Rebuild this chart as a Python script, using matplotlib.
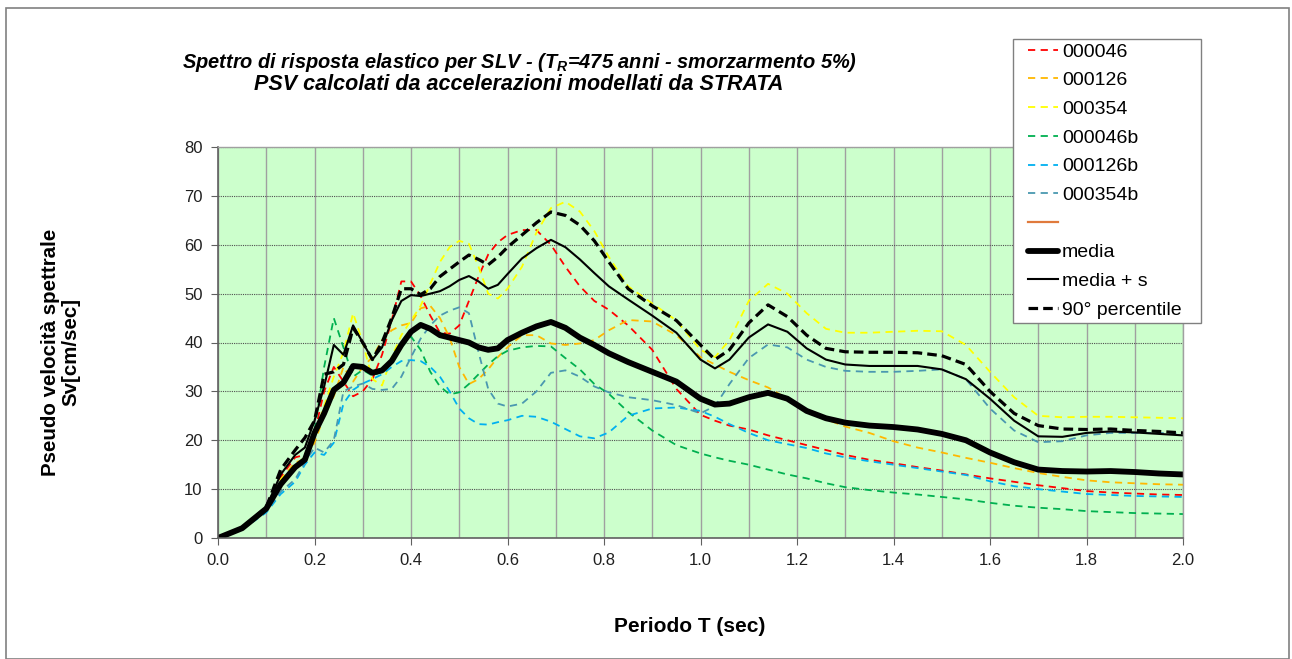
import matplotlib
matplotlib.use("Agg")
import matplotlib.pyplot as plt
from matplotlib.patches import Rectangle

plt.rcParams['font.family'] = ['Liberation Sans', 'DejaVu Sans']
plt.rcParams['mathtext.fontset'] = 'custom'
plt.rcParams['mathtext.it'] = 'Liberation Sans:bold:italic'
plt.rcParams['mathtext.rm'] = 'Liberation Sans:bold:italic'
plt.rcParams['mathtext.bf'] = 'Liberation Sans:bold:italic'

T = [0, 0.05, 0.1, 0.13, 0.16, 0.18, 0.2, 0.22, 0.24, 0.26, 0.28, 0.3, 0.32, 0.34, 0.36, 0.38,
     0.40, 0.42, 0.44, 0.46, 0.48, 0.50, 0.52, 0.54, 0.56, 0.58, 0.60, 0.63, 0.66, 0.69, 0.72,
     0.75, 0.78, 0.81, 0.85, 0.90, 0.95, 1.00, 1.03, 1.06, 1.10, 1.14, 1.18, 1.22, 1.26, 1.30,
     1.35, 1.40, 1.45, 1.50, 1.55, 1.60, 1.65, 1.70, 1.75, 1.80, 1.85, 1.90, 1.95, 2.00]

s000046 = [0, 2.0, 6.2, 12.5, 16.5, 17, 21.5, 30, 35, 32, 29, 30, 32.5, 37.5, 44.5, 52.5,
           52.5, 49.5, 45.5, 42.0, 41.8, 43.5, 48.5, 53.5, 58.0, 60.5, 62.0, 63.0, 63.0, 60.0, 55.5,
           51.5, 48.5, 46.7, 43.5, 38.5, 30.5, 25.2, 24.0, 23.0, 22.2, 21.0, 20.0, 19.0, 18.0, 17.0,
           16.0, 15.3, 14.5, 13.8, 13.0, 12.2, 11.5, 10.8, 10.2, 9.6, 9.3, 9.1, 8.9, 8.8]

s000126 = [0, 2.0, 6.0, 12, 15.5, 16, 19.5, 25, 29, 35, 32, 35, 37, 40.5, 42.5, 43.5,
           44.0, 47.0, 47.5, 45.0, 41.0, 35.0, 31.5, 32.5, 34.5, 37.0, 39.0, 41.5, 41.5, 39.8, 39.5,
           39.8, 40.5, 42.5, 44.6, 44.3, 41.5, 37.0, 35.5, 34.0, 32.3, 30.8, 28.5, 26.0, 24.3, 22.8,
           21.5, 19.8, 18.5, 17.5, 16.4, 15.4, 14.3, 13.3, 12.5, 11.8, 11.4, 11.2, 11.0, 10.9]

s000354 = [0, 2.0, 6.0, 12, 15, 16.5, 21, 27, 33, 38, 46, 40, 32.5, 31.2, 37, 41.5,
           44.5, 47.5, 52, 56.5, 59.5, 60.8, 60.2, 55.5, 50.0, 49.0, 51.0, 55.5, 62.5, 67.5, 68.8,
           66.8, 62.8, 57.5, 51.5, 48.0, 44.5, 38.5, 37.0, 40.5, 48.5, 52.0, 50.0, 46.0, 42.8, 42.0,
           42.0, 42.2, 42.4, 42.3, 39.5, 34.0, 28.8, 25.0, 24.7, 24.8, 24.8, 24.7, 24.6, 24.5]

s000046b = [0, 2.0, 5.8, 11, 14.5, 16, 22, 35, 45, 39, 33, 34.4, 33.2, 34, 36.5, 39.0,
            41.2, 38.5, 34.0, 31.0, 29.4, 29.8, 31.5, 33.5, 35.5, 37.2, 38.3, 39.0, 39.3, 39.2, 36.8,
            34.5, 31.5, 29.5, 25.8, 22.0, 19.0, 17.3, 16.5, 15.8, 15.0, 14.0, 13.0, 12.2, 11.2, 10.4,
            9.8, 9.3, 8.9, 8.4, 7.9, 7.2, 6.6, 6.2, 5.9, 5.5, 5.3, 5.1, 5.0, 4.9]

s000126b = [0, 1.8, 5.2, 9, 11.5, 15, 17.5, 17, 19.5, 27.5, 30.3, 31.6, 32.5, 33.5, 35.0, 36.2,
            36.4, 36.2, 35.0, 33.0, 30.0, 26.5, 24.5, 23.3, 23.2, 23.7, 24.1, 25.0, 24.8, 23.8, 22.3,
            20.8, 20.4, 21.6, 25.0, 26.5, 26.7, 26.0, 24.8, 23.3, 21.5, 20.0, 19.2, 18.4, 17.3, 16.5,
            15.7, 15.0, 14.3, 13.6, 12.9, 11.6, 10.6, 10.0, 9.5, 9.0, 8.8, 8.6, 8.5, 8.4]

s000354b = [0, 1.8, 5.5, 9.5, 12, 15.5, 18.5, 17.5, 20, 30, 31.0, 31.6, 30.5, 30.3, 30.5, 33,
            37, 40.8, 43.5, 45.5, 46.5, 47.2, 46.0, 38.0, 30.5, 27.5, 26.9, 27.5, 30.0, 33.8, 34.3,
            33.0, 31.0, 29.8, 28.8, 28.2, 27.2, 25.5, 27.0, 31.5, 36.8, 39.6, 39.0, 36.5, 35.0, 34.2,
            34.0, 34.0, 34.2, 34.5, 32.5, 26.5, 22.0, 19.6, 19.8, 21.0, 21.5, 21.5, 21.5, 21.4]

media = [0, 2.0, 6.0, 11.0, 14.5, 16.0, 21.5, 25.5, 30.3, 31.8, 35.2, 35.0, 33.8, 34.3, 36.2, 39.5,
         42.2, 43.6, 42.8, 41.5, 41.0, 40.5, 40.0, 39.0, 38.5, 38.8, 40.5, 42.0, 43.3, 44.2, 43.0,
         41.0, 39.5, 37.8, 36.0, 34.0, 32.0, 28.5, 27.3, 27.5, 28.8, 29.7, 28.5, 26.0, 24.5, 23.6,
         23.0, 22.7, 22.2, 21.3, 20.0, 17.5, 15.5, 14.0, 13.7, 13.6, 13.7, 13.5, 13.2, 13.0]

media_s = [0, 2.0, 6.3, 13, 17, 18.5, 24, 31, 39.5, 37.5, 43.5, 40.0, 36.5, 39.0, 44.5, 48.5,
           49.7, 49.5, 50.0, 50.5, 51.5, 52.8, 53.6, 52.5, 51.0, 51.8, 54.0, 57.2, 59.3, 61.0, 59.5,
           57.0, 54.2, 51.5, 48.8, 45.5, 42.0, 36.5, 34.7, 36.5, 41.0, 43.7, 42.2, 38.8, 36.5, 35.5,
           35.2, 35.2, 35.2, 34.5, 32.5, 28.5, 24.0, 20.8, 20.7, 21.5, 21.8, 21.6, 21.3, 21.0]

perc90 = [0, 2.0, 6.3, 14, 18, 20.5, 24, 33.5, 34.0, 35.5, 43.0, 40.0, 36.5, 40.0, 45, 51,
          51.0, 49.8, 51.0, 53.5, 55.0, 56.5, 57.9, 57.0, 55.9, 57.5, 59.5, 62.0, 64.5, 66.7, 66.0,
          64.0, 60.8, 56.5, 51.0, 47.5, 44.5, 39.5, 36.5, 38.5, 44.0, 47.7, 45.3, 41.5, 38.8, 38.1,
          38.0, 38.0, 37.9, 37.3, 35.5, 30.0, 25.5, 23.0, 22.3, 22.2, 22.3, 22.0, 21.8, 21.5]

x_ticks = [0.0, 0.2, 0.4, 0.6, 0.8, 1.0, 1.2, 1.4, 1.6, 1.8, 2.0]
y_ticks = [0, 10, 20, 30, 40, 50, 60, 70, 80]

W, H = 1292, 659
fig = plt.figure(figsize=(W / 100, H / 100), dpi=100)
fig.patches.append(Rectangle((6 / W, 0), (1289 - 6) / W, 1 - 8 / H,
                             transform=fig.transFigure, fill=False, edgecolor='#808080', lw=1.2))

ax = fig.add_axes([218 / W, 1 - 538 / H, (1183 - 218) / W, (538 - 147) / H])
ax.set_facecolor('#CCFFCC')

dash = (0, (4, 3))
ax.plot(T, s000046, color='#FF0000', lw=1.3, ls=dash, label='000046')
ax.plot(T, s000126, color='#FFB800', lw=1.3, ls=dash, label='000126')
ax.plot(T, s000354, color='#FFFF00', lw=1.3, ls=dash, label='000354')
ax.plot(T, s000046b, color='#00B050', lw=1.3, ls=dash, label='000046b')
ax.plot(T, s000126b, color='#00B0F0', lw=1.3, ls=dash, label='000126b')
ax.plot(T, s000354b, color='#4A98B0', lw=1.3, ls=dash, label='000354b')
ax.plot([], [], color='#E07A3C', lw=1.6, label=' ')
ax.plot(T, media, color='black', lw=4.2, solid_capstyle='round', solid_joinstyle='round', label='media')
ax.plot(T, media_s, color='black', lw=1.5, label='media + s')
ax.plot(T, perc90, color='black', lw=2.3, ls=(0, (3, 1.6)), label='90° percentile')

ax.set_xlim(0, 2.0)
ax.set_ylim(0, 80)
ax.set_xticks(x_ticks)
ax.set_xticklabels([f'{v:.1f}' for v in x_ticks])
ax.set_yticks(y_ticks)
ax.set_xticks([0.1 * i for i in range(1, 20, 2)], minor=True)
ax.tick_params(axis='both', which='major', direction='out', length=5, color='#606060',
               labelsize=12, labelcolor='#202020', pad=6)
ax.tick_params(axis='x', which='minor', length=0)
ax.grid(True, axis='x', which='both', color='#A0A0A0', lw=1.0, ls='-')
ax.grid(True, axis='y', which='major', color='#505050', lw=0.8, ls=(0, (1, 1)))
ax.set_axisbelow(True)
for side in ['left', 'bottom']:
    ax.spines[side].set_color('#606060')
    ax.spines[side].set_linewidth(1.2)
for side in ['top', 'right']:
    ax.spines[side].set_color('#A0A0A0')
    ax.spines[side].set_linewidth(1.0)

fig.text(520 / W, 1 - 62 / H, r"Spettro di risposta elastico per SLV - ($T_R$=475 anni - smorzarmento 5%)",
         ha='center', va='center', fontsize=14.4, fontweight='bold', fontstyle='italic')
fig.text(519 / W, 1 - 85 / H, "PSV calcolati da accelerazioni modellati da STRATA",
         ha='center', va='center', fontsize=15.5, fontweight='bold', fontstyle='italic')

fig.text(61 / W, 1 - 352 / H, "Pseudo velocità spettrale\nSv[cm/sec]", rotation=90,
         ha='center', va='center', fontsize=14.8, fontweight='bold', linespacing=1.1)
fig.text(690 / W, 1 - 627 / H, "Periodo T (sec)", ha='center', va='center',
         fontsize=15, fontweight='bold')

# legend frame
ax.add_patch(Rectangle((1013 / W, 1 - 323 / H), (1201 - 1013) / W, (323 - 39) / H,
                       transform=fig.transFigure, facecolor='white', edgecolor='#808080',
                       lw=1.0, clip_on=False, zorder=10))
leg = ax.legend(loc='upper left', bbox_to_anchor=(1028 / W, 1 - 43 / H),
                bbox_transform=fig.transFigure, fontsize=14, frameon=False,
                handlelength=1.55, handletextpad=0.2, labelspacing=0.57,
                borderpad=0, borderaxespad=0)
leg.set_zorder(20)

fig.savefig('out.png', dpi=100)
